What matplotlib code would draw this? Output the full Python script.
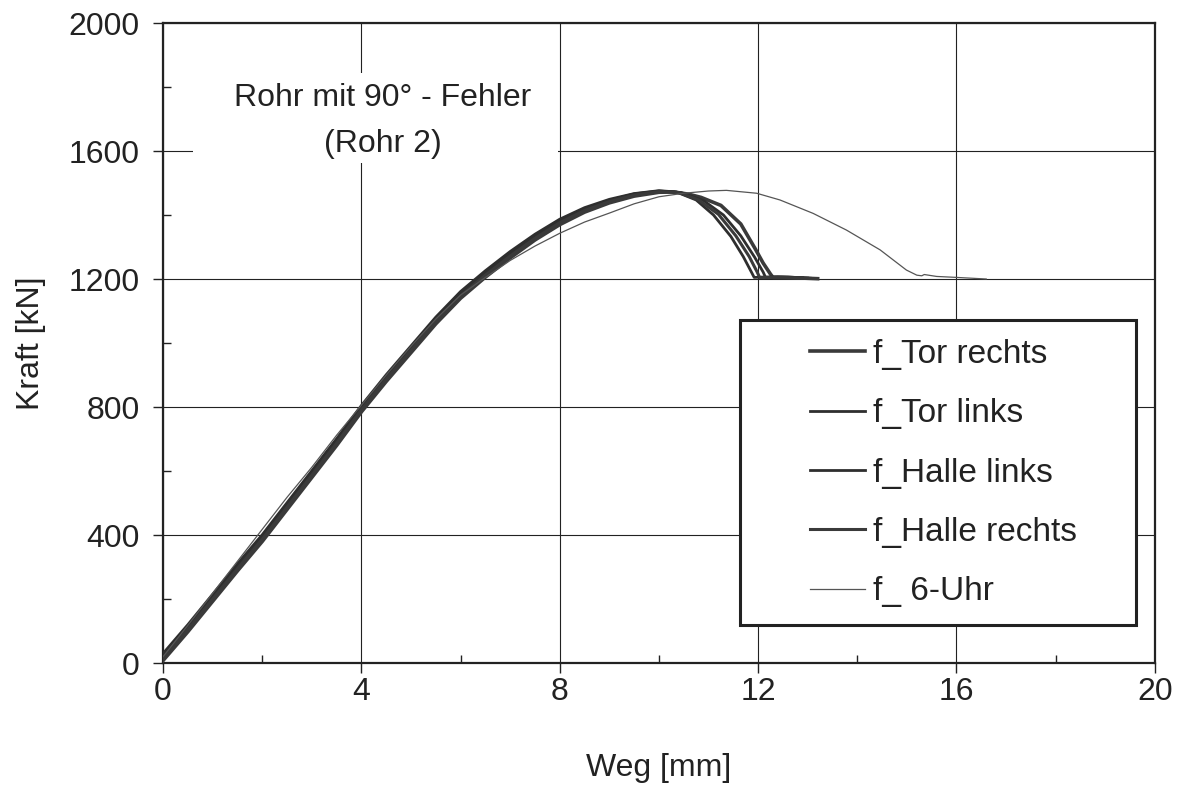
import numpy as np
import matplotlib
matplotlib.use("Agg")
import matplotlib.pyplot as plt
import matplotlib.patches as patches

plt.rcParams['font.family'] = ['Liberation Sans', 'DejaVu Sans']

# values (Kraft in kN over Weg in mm)
x_tor_re = [0, 0.5, 1, 1.5, 2, 2.5, 3, 3.5, 4, 4.5, 5, 5.5, 6, 6.5, 7, 7.5, 8, 8.5, 9, 9.5, 10,
            10.3, 10.6, 10.85, 11.25, 11.65, 11.95, 12.1, 12.25, 12.3, 12.7, 13.2]
y_tor_re = [8, 98, 193, 288, 380, 480, 580, 680, 785, 880, 970, 1060, 1140, 1206, 1266, 1322, 1370, 1409, 1438, 1459, 1471,
            1472, 1465, 1455, 1430, 1372, 1292, 1250, 1215, 1205, 1204, 1201]

x_tor_li = [0, 0.5, 1, 1.5, 2, 2.5, 3, 3.5, 4, 4.5, 5, 5.5, 6, 6.5, 7, 7.5, 8, 8.5, 9, 9.5, 10,
            10.45, 10.9, 11.3, 11.65, 11.93, 12.1, 12.15, 12.6, 13.0]
y_tor_li = [22, 112, 207, 302, 394, 494, 594, 694, 799, 894, 984, 1074, 1154, 1219, 1279, 1334, 1382, 1419, 1446, 1466, 1475,
            1470, 1445, 1400, 1335, 1268, 1222, 1205, 1206, 1203]

x_halle_li = [0, 0.5, 1, 1.5, 2, 2.5, 3, 3.5, 4, 4.5, 5, 5.5, 6, 6.5, 7, 7.5, 8, 8.5, 9, 9.5, 10,
              10.35, 10.75, 11.1, 11.45, 11.7, 11.87, 11.92, 12.4, 12.9]
y_halle_li = [30, 120, 215, 310, 401, 501, 601, 701, 805, 901, 991, 1081, 1161, 1226, 1286, 1340, 1387, 1423, 1449, 1467, 1476,
              1472, 1447, 1400, 1333, 1270, 1220, 1205, 1207, 1204]

x_halle_re = [0, 0.5, 1, 1.5, 2, 2.5, 3, 3.5, 4, 4.5, 5, 5.5, 6, 6.5, 7, 7.5, 8, 8.5, 9, 9.5, 10,
              10.4, 10.8, 11.2, 11.55, 11.82, 11.98, 12.03, 12.5, 13.05]
y_halle_re = [15, 105, 200, 295, 387, 487, 587, 687, 792, 887, 977, 1067, 1147, 1212, 1272, 1327, 1376, 1414, 1442, 1462, 1473,
              1470, 1447, 1402, 1335, 1270, 1222, 1205, 1205, 1202]

x_6uhr = [0, 0.5, 1, 1.5, 2, 2.5, 3, 3.5, 4, 4.5, 5, 5.5, 6, 6.5, 7, 7.5, 8, 8.5, 9, 9.5, 10,
          10.5, 11, 11.36, 11.97, 12.44, 13.11, 13.78, 14.46, 14.99, 15.2, 15.3, 15.35, 15.6, 16.0, 16.6]
y_6uhr = [20, 118, 218, 318, 418, 518, 612, 712, 806, 900, 990, 1075, 1150, 1205, 1258, 1303, 1343, 1378, 1406, 1435, 1457,
          1468, 1475, 1477, 1468, 1447, 1405, 1353, 1291, 1228, 1212, 1210, 1214, 1208, 1205, 1200]

fig = plt.figure(figsize=(11.82, 7.85), dpi=100)
ax = fig.add_axes([0.138, 0.1554, 0.839, 0.8153])

ax.plot(x_tor_re, y_tor_re, color='#3a3a3a', lw=2.6, label='f_Tor rechts', zorder=3)
ax.plot(x_tor_li, y_tor_li, color='#2e2e2e', lw=2.0, label='f_Tor links', zorder=3)
ax.plot(x_halle_li, y_halle_li, color='#2e2e2e', lw=2.0, label='f_Halle links', zorder=3)
ax.plot(x_halle_re, y_halle_re, color='#3a3a3a', lw=2.2, label='f_Halle rechts', zorder=3)
ax.plot(x_6uhr, y_6uhr, color='#555555', lw=0.9, label='f_ 6-Uhr', zorder=3)

ax.set_xlim(0, 20)
ax.set_ylim(0, 2000)
ax.set_xticks(np.arange(0, 21, 4))
ax.set_yticks(np.arange(0, 2001, 400))
ax.set_xticks(np.arange(2, 20, 4), minor=True)
ax.set_yticks(np.arange(200, 2000, 400), minor=True)
ax.tick_params(which='major', direction='out', length=7, width=1, labelsize=23, colors='#222222')
ax.tick_params(axis='x', which='major', pad=3)
ax.tick_params(axis='y', which='major', pad=10)
ax.tick_params(which='minor', direction='in', length=6, width=1, colors='#222222')
ax.set_axisbelow(True)
ax.grid(True, which='major', color='#222222', lw=0.8)
for s in ax.spines.values():
    s.set_linewidth(1.6)
    s.set_color('#222222')

ax.set_xlabel('Weg [mm]', fontsize=23, color='#222222', labelpad=33)
ax.set_ylabel('Kraft [kN]', fontsize=23, color='#222222', labelpad=16)

# white patch behind the annotation (grid is interrupted there)
ax.add_patch(patches.Rectangle((0.030, 0.781), 0.368, 0.141, transform=ax.transAxes,
                               facecolor='white', edgecolor='none', zorder=1))
ax.text(4.43, 1693, 'Rohr mit 90° - Fehler\n(Rohr 2)', ha='center', va='center',
        fontsize=23, color='#222222', linespacing=1.68, zorder=2)

# legend frame
ax.add_patch(patches.Rectangle((0.5817, 0.0594), 0.3993, 0.4766, transform=ax.transAxes,
                               facecolor='white', edgecolor='#222222', lw=2.2, zorder=4))
leg = ax.legend(loc='upper left', bbox_to_anchor=(0.652, 0.506), frameon=False, fontsize=24,
                handlelength=1.65, handletextpad=0.24, labelspacing=0.85, borderpad=0,
                borderaxespad=0)
leg.set_zorder(5)
for t in leg.get_texts():
    t.set_color('#222222')

fig.savefig('out.png', dpi=100)
